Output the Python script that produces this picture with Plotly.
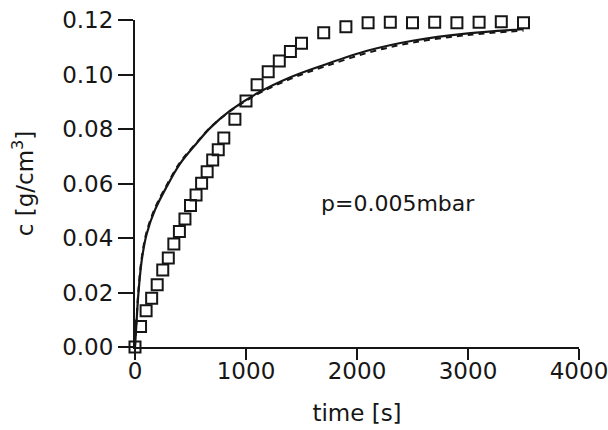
import plotly.graph_objects as go

# Measured data (squares)
t_meas = [0, 50, 100, 150, 200, 250, 300, 350, 400, 450, 500, 550, 600, 650, 700, 750, 800,
          900, 1000, 1100, 1200, 1300, 1400, 1500, 1700, 1900, 2100, 2300, 2500, 2700, 2900,
          3100, 3300, 3500]
c_meas = [0.0, 0.0075, 0.0133, 0.0179, 0.0228, 0.0283, 0.0327, 0.0378, 0.0424, 0.0470,
          0.0519, 0.0558, 0.0601, 0.0643, 0.0686, 0.0724, 0.0767,
          0.0836, 0.0903, 0.0962, 0.1010, 0.1050, 0.1084, 0.1115, 0.1153, 0.1175, 0.1190,
          0.1192, 0.1190, 0.1192, 0.1190, 0.1192, 0.1194, 0.1190]

# Model curves
t_fit = [0, 15, 30, 60, 105, 180, 285, 405, 550, 680, 860, 1100, 1400, 1700, 2100, 2500, 3000, 3500]
c_solid = [0.0, 0.0100, 0.0193, 0.0316, 0.0415, 0.0503, 0.0588, 0.0672, 0.0745, 0.0805,
           0.0868, 0.0931, 0.0990, 0.1035, 0.1088, 0.1124, 0.1151, 0.1166]
c_dash = [0.0, 0.0108, 0.0203, 0.0326, 0.0423, 0.0510, 0.0594, 0.0677, 0.0748, 0.0806,
          0.0866, 0.0927, 0.0984, 0.1028, 0.1080, 0.1117, 0.1145, 0.1161]

x_ticks = [0, 1000, 2000, 3000, 4000]
y_ticks = [0.00, 0.02, 0.04, 0.06, 0.08, 0.10, 0.12]

ink = "#161616"
font = "DejaVu Sans"

fig = go.Figure()
fig.add_trace(go.Scatter(x=t_fit, y=c_dash, mode="lines", line=dict(color=ink, width=2, dash="6px,5px", shape="spline"),
                         cliponaxis=False, showlegend=False))
fig.add_trace(go.Scatter(x=t_fit, y=c_solid, mode="lines", line=dict(color=ink, width=2.2, shape="spline"),
                         cliponaxis=False, showlegend=False))
fig.add_trace(go.Scatter(x=t_meas, y=c_meas, mode="markers",
                         marker=dict(symbol="square-open", size=11, color=ink, line=dict(width=2, color=ink)),
                         cliponaxis=False, showlegend=False))

fig.add_annotation(x=2370, y=0.0525, text="p=0.005mbar", showarrow=False,
                   font=dict(family=font, size=22, color=ink))

fig.update_layout(
    width=608, height=430,
    margin=dict(l=135, r=29, t=20, b=83),
    paper_bgcolor="white", plot_bgcolor="white",
    font=dict(family=font, size=23, color=ink),
)
fig.update_xaxes(range=[0, 4000], tickvals=x_ticks, ticktext=[str(v) for v in x_ticks],
                 automargin=False, ticklabeloverflow="allow", ticklabelstandoff=-9,
                 showgrid=False, zeroline=False, showline=True, linecolor=ink, linewidth=2,
                 ticks="outside", ticklen=11, tickwidth=2, tickcolor=ink,
                 title=dict(text="time [s]", standoff=22, font=dict(size=23)))
fig.update_yaxes(range=[0, 0.12], tickvals=y_ticks, ticktext=[f"{v:.2f}" for v in y_ticks],
                 automargin=False, ticklabeloverflow="allow",
                 showgrid=False, zeroline=False, showline=True, linecolor=ink, linewidth=2,
                 ticks="outside", ticklen=15, tickwidth=2, tickcolor=ink,
                 title=dict(text="c [g/cm<sup>3</sup>]", standoff=22, font=dict(size=23)))

# remove the browser's default page margin so the figure fills the window exactly
fig.write_html("out.html", config={"displayModeBar": False},
               post_script="document.body.style.margin='0';document.body.style.overflow='hidden';")
